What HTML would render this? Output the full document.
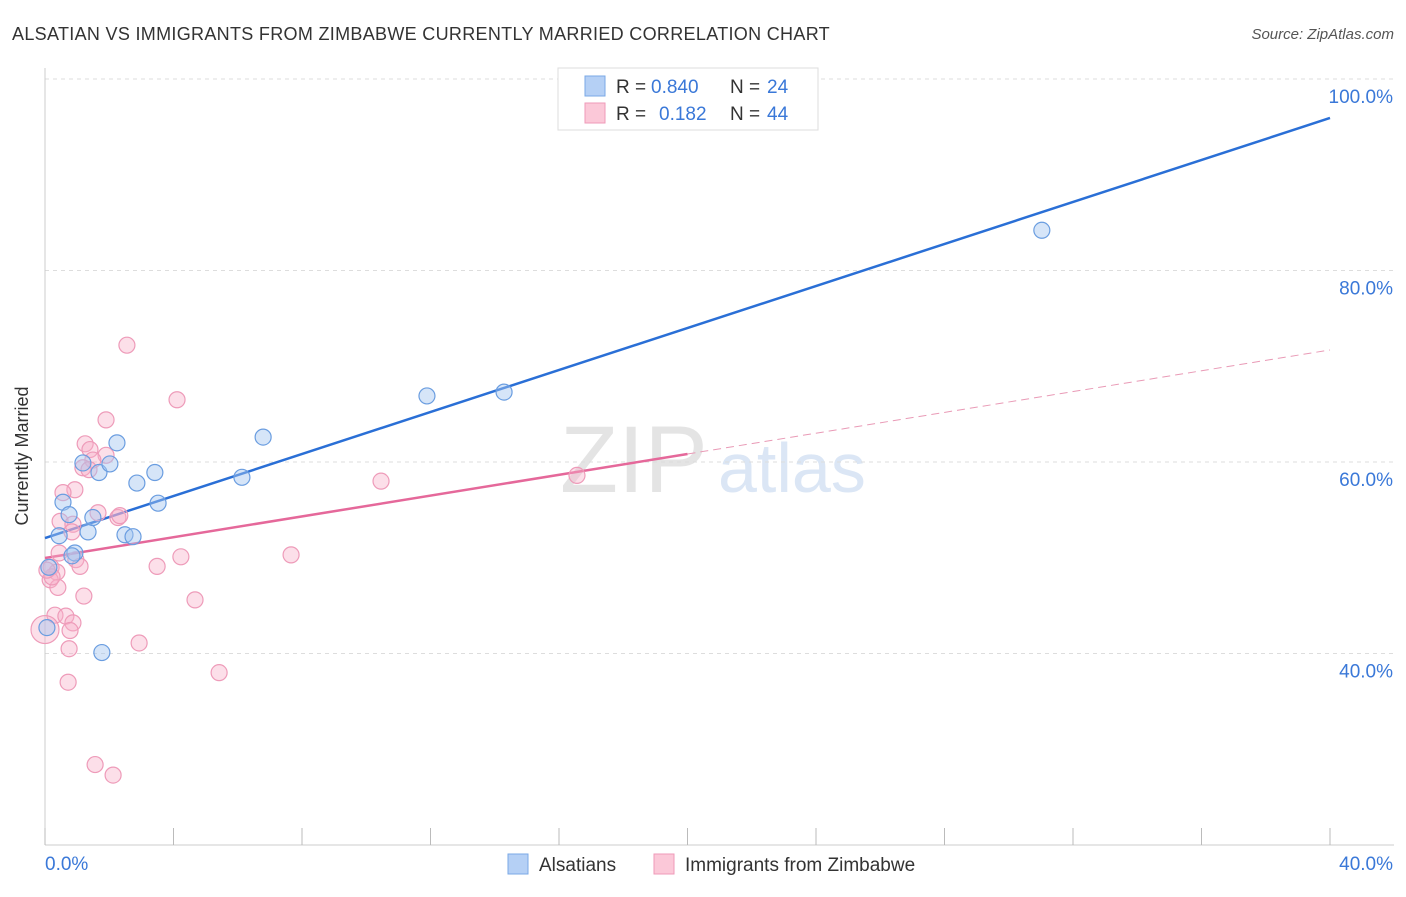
<!DOCTYPE html>
<html><head><meta charset="utf-8"><style>
body{margin:0;background:#fff;font-family:"Liberation Sans",sans-serif}
svg text{font-family:"Liberation Sans",sans-serif}
</style></head><body>
<svg width="1406" height="892" id="chart">
<text x="12" y="40" font-size="18" fill="#333" letter-spacing="0.3" textLength="818" lengthAdjust="spacingAndGlyphs">ALSATIAN VS IMMIGRANTS FROM ZIMBABWE CURRENTLY MARRIED CORRELATION CHART</text>
<text x="1394" y="39" font-size="15" fill="#555" font-style="italic" text-anchor="end">Source: ZipAtlas.com</text>
<text x="28" y="456" font-size="18" fill="#333" transform="rotate(-90 28 456)" text-anchor="middle">Currently Married</text>
<text x="560" y="492" font-size="95" fill="#e4e4e4" font-family="Liberation Serif">ZIP</text>
<text x="718" y="492" font-size="70" fill="#dbe6f5">atlas</text>
<g id="grid"></g><g id="lines"></g><g id="pts"></g>
<g font-size="19">
<rect x="558" y="68" width="260" height="62" fill="#fff" stroke="#ddd"/>
<rect x="585" y="76" width="20" height="20" fill="#b5d0f5" stroke="#7aa8e6"/>
<text x="616" y="93" fill="#333">R =</text>
<text x="651" y="93" fill="#3a78d8">0.840</text>
<text x="730" y="93" fill="#333">N =</text>
<text x="767" y="93" fill="#3a78d8">24</text>
<rect x="585" y="103" width="20" height="20" fill="#fbc8d8" stroke="#ef9ab8"/>
<text x="616" y="120" fill="#333">R =</text>
<text x="659" y="120" fill="#3a78d8">0.182</text>
<text x="730" y="120" fill="#333">N =</text>
<text x="767" y="120" fill="#3a78d8">44</text>
</g>
<g>
<rect x="508" y="854" width="20" height="20" fill="#b5d0f5" stroke="#7aa8e6"/>
<text x="539" y="871" font-size="19" fill="#333">Alsatians</text>
<rect x="654" y="854" width="20" height="20" fill="#fbc8d8" stroke="#ef9ab8"/>
<text x="685" y="871" font-size="19" fill="#333">Immigrants from Zimbabwe</text>
</g>
</svg>
<script>
const xTicks=[0,4,8,12,16,20,24,28,32,36,40];
const yTicks=[40,60,80,100];
const blueX=[.56,.75,.44,.93,1.34,1.49,1.18,1.68,2.02,2.24,2.49,2.74,2.86,3.42,3.52,1.77,6.13,6.79,11.89,14.29,31.03,.12,.84,.06];
const blueY=[55.8,54.5,52.3,50.5,52.7,54.2,59.9,58.9,59.8,62.0,52.4,52.2,57.8,58.9,55.7,40.1,58.4,62.6,66.9,67.3,84.2,49.0,50.2,42.7];
const pinkX=[2.55,4.11,1.90,1.25,1.40,1.90,1.49,1.18,1.37,.93,.56,.47,.87,.84,1.65,2.27,.44,.96,1.09,.19,.37,.16,.40,1.21,3.49,4.23,4.67,7.66,10.46,16.56,.31,.65,.87,.78,.75,2.93,5.42,.72,1.56,2.12,0,.22,.06,2.33];
const pinkY=[72.2,66.5,64.4,61.9,61.3,60.7,60.2,59.4,59.2,57.1,56.8,53.8,53.5,52.7,54.7,54.2,50.5,49.8,49.1,49.0,48.5,47.7,46.9,46.0,49.1,50.1,45.6,50.3,58.0,58.6,44.0,43.9,43.2,42.4,40.5,41.1,38.0,37.0,28.4,27.3,42.5,48.0,48.7,54.4];
const blueTrend=[52.06,95.93];
const pinkTrend=[49.97,71.7];
const NS="http://www.w3.org/2000/svg";
const X=v=>45+v*32.125, Y=v=>79+(100-v)*9.575;
function mk(tag,attrs,parent){const e=document.createElementNS(NS,tag);for(const k in attrs)e.setAttribute(k,attrs[k]);parent.appendChild(e);return e;}
const grid=document.getElementById('grid'),lines=document.getElementById('lines'),pts=document.getElementById('pts');
yTicks.forEach(t=>{
 const l=mk('line',{x1:45,x2:1394,y1:Y(t),y2:Y(t),stroke:'#ddd','stroke-dasharray':'4,4'},grid);
 
 
 const tx=mk('text',{x:1393,y:Y(t)+24,'font-size':19,fill:'#3a78d8','text-anchor':'end'},grid);tx.textContent=t.toFixed(1)+'%';
 
 
});
mk('line',{x1:45,x2:45,y1:68,y2:845,stroke:'#ccc'},grid);
mk('line',{x1:45,x2:1394,y1:845,y2:845,stroke:'#ccc'},grid);
xTicks.forEach(t=>{const l=mk('line',{x1:X(t),x2:X(t),y1:828,y2:845,stroke:'#bbb'},grid);
 
 });
let t0=mk('text',{x:45,y:870,'font-size':19,fill:'#3a78d8'},grid);t0.textContent=xTicks[0].toFixed(1)+'%';


let t1=mk('text',{x:1393,y:870,'font-size':19,fill:'#3a78d8','text-anchor':'end'},grid);t1.textContent=xTicks[xTicks.length-1].toFixed(1)+'%';


function dot(x,y,fill,stroke,name){const r=(x===0&&y===42.5)?14:8;const c=mk('circle',{cx:X(x),cy:Y(y),r:r,fill:fill,stroke:stroke,'stroke-width':1.2},pts);
 
 }
pinkX.forEach((x,i)=>dot(x,pinkY[i],'rgba(247,175,200,0.4)','#ee9bb9','zimbabwe-point'));
blueX.forEach((x,i)=>dot(x,blueY[i],'rgba(165,198,240,0.45)','#6a9de0','alsatian-point'));
const pm=pinkTrend[0]+(pinkTrend[1]-pinkTrend[0])*(20/40);
let pl=mk('line',{x1:X(0),y1:Y(pinkTrend[0]),x2:X(20),y2:Y(pm),stroke:'#e5689a','stroke-width':2.5},lines);


let pd=mk('line',{x1:X(20),y1:Y(pm),x2:X(40),y2:Y(pinkTrend[1]),stroke:'#e99ab6','stroke-width':1,'stroke-dasharray':'8,5'},lines);


let bl=mk('line',{x1:X(0),y1:Y(blueTrend[0]),x2:X(40),y2:Y(blueTrend[1]),stroke:'#2a6fd6','stroke-width':2.5},lines);


</script>
</body></html>
